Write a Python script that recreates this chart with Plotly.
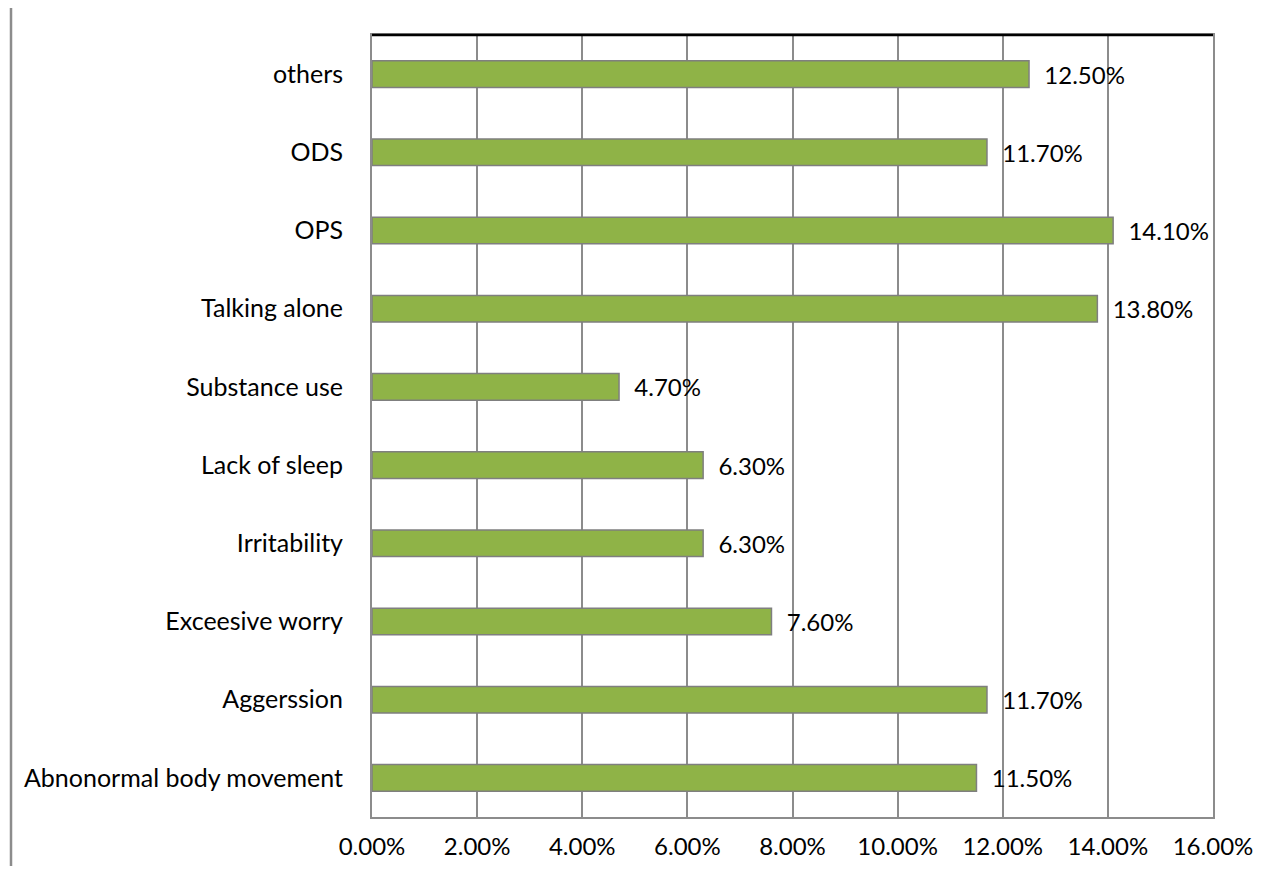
import plotly.graph_objects as go

categories = ["Abnonormal body movement", "Aggerssion", "Exceesive worry", "Irritability",
              "Lack of sleep", "Substance use", "Talking alone", "OPS", "ODS", "others"]
values = [11.5, 11.7, 7.6, 6.3, 6.3, 4.7, 13.8, 14.1, 11.7, 12.5]
tick_vals = [0, 2, 4, 6, 8, 10, 12, 14, 16]
tick_text = ["0.00%", "2.00%", "4.00%", "6.00%", "8.00%", "10.00%", "12.00%", "14.00%", "16.00%"]

font_family = "Lato, Open Sans, sans-serif"

fig = go.Figure()
fig.add_trace(go.Bar(
    y=categories, x=values, orientation="h",
    width=0.34,
    marker=dict(color="#8FB347", line=dict(color="#7F7F7F", width=1.5)),
    text=["  %.2f%%" % v for v in values],
    textposition="outside",
    constraintext="none",
    textfont=dict(family=font_family, size=24, color="#000000"),
    cliponaxis=False,
))

# page body has an 8px margin: figure origin is at (8, 8) on screen
fig.update_layout(
    width=1280, height=881,
    margin=dict(l=364, r=75, t=27, b=72),
    paper_bgcolor="white", plot_bgcolor="white",
    showlegend=False,
    xaxis=dict(
        range=[0, 16], tickvals=tick_vals, ticktext=tick_text,
        showgrid=True, gridcolor="#8C8C8C", gridwidth=2,
        showline=True, linecolor="#8C8C8C", linewidth=2, mirror=True,
        zeroline=False, ticks="", ticklabelstandoff=7,
        tickfont=dict(family=font_family, size=24, color="#000000"),
    ),
    yaxis=dict(
        showgrid=False, showline=True, linecolor="#8C8C8C", linewidth=2, mirror=True,
        ticks="", ticklabelstandoff=22,
        tickfont=dict(family=font_family, size=25, color="#000000"),
    ),
    shapes=[
        dict(type="line", xref="paper", yref="paper", x0=0, x1=1, y0=1, y1=1,
             line=dict(color="#000000", width=2.5)),
        dict(type="line", xref="paper", yref="paper", x0=(11 - 372) / 841, x1=(11 - 372) / 841,
             y0=(817 - 5) / 782, y1=(817 - 866) / 782,
             line=dict(color="#8C8C8C", width=2.5)),
    ],
)

fig.write_html("out.html")
